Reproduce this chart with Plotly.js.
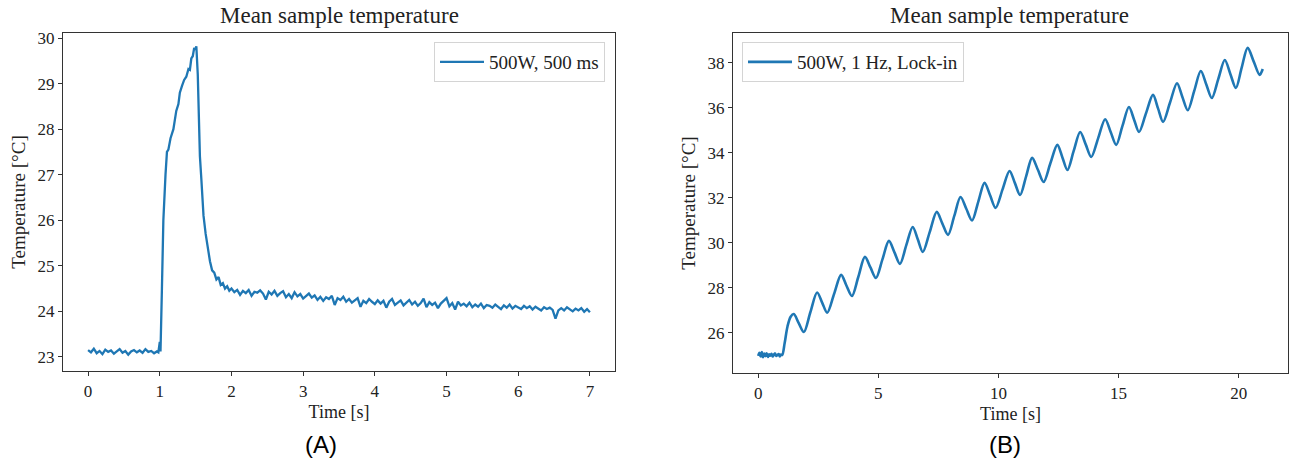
<!DOCTYPE html>
<html>
<head>
<meta charset="utf-8">
<script src="https://cdn.plot.ly/plotly-3.0.1.min.js"></script>
<style>html,body{margin:0;padding:0;background:#fff;}#chart{width:1290px;height:464px;}</style>
</head>
<body>
<div id="chart"></div>
<script>
// ---- Panel A: 500W, 500 ms pulse ----
const timeA = [
  0.00,0.04,0.08,0.12,0.16,0.20,0.24,0.28,0.32,0.36,0.40,0.44,0.48,0.52,0.56,0.60,0.64,0.68,0.72,0.76,0.80,0.84,0.88,0.92,0.96,
  0.98,1.00,1.01,1.03,1.05,1.08,1.10,1.12,1.15,1.19,1.23,1.26,1.28,1.31,1.34,1.37,1.40,1.42,1.44,1.46,1.48,1.50,1.51,
  1.53,1.56,1.58,1.61,1.64,1.67,1.70,1.73,1.76,1.79,1.82,1.85,1.88,1.91,1.94,1.97,2.00,
  2.04,2.08,2.12,2.16,2.20,2.24,2.28,2.32,2.36,2.40,
  2.44,2.48,2.52,2.56,2.60,2.64,2.68,2.72,2.76,2.80,
  2.84,2.88,2.92,2.96,3.00,3.04,3.08,3.12,3.16,3.20,
  3.24,3.28,3.32,3.36,3.40,3.44,3.48,3.52,3.56,3.60,
  3.64,3.68,3.72,3.76,3.80,3.84,3.88,3.92,3.96,4.00,
  4.04,4.08,4.12,4.16,4.20,4.24,4.28,4.32,4.36,4.40,
  4.44,4.48,4.52,4.56,4.60,4.64,4.68,4.72,4.76,4.80,
  4.84,4.88,4.92,4.96,5.00,5.04,5.08,5.12,5.16,5.20,
  5.24,5.28,5.32,5.36,5.40,5.44,5.48,5.52,5.56,5.60,
  5.64,5.68,5.72,5.76,5.80,5.84,5.88,5.92,5.96,6.00,
  6.04,6.08,6.12,6.16,6.20,6.24,6.28,6.32,6.36,6.40,
  6.44,6.48,6.52,6.56,6.60,6.64,6.68,6.72,6.76,6.80,
  6.84,6.88,6.92,6.96,7.00
];
const tempA = [
  23.15,23.10,23.18,23.08,23.13,23.06,23.16,23.11,23.14,23.07,23.12,23.17,23.09,23.13,23.05,23.12,23.15,23.10,23.14,23.09,23.17,23.11,23.13,23.08,23.12,
  23.10,23.33,23.12,24.50,26.00,27.00,27.50,27.55,27.80,28.00,28.40,28.55,28.80,28.95,29.08,29.15,29.32,29.30,29.55,29.60,29.78,29.75,29.82,
  29.20,27.40,26.90,26.10,25.70,25.35,25.10,24.90,24.85,24.70,24.75,24.58,24.62,24.50,24.55,24.45,24.50,
  24.42,24.47,24.36,24.45,24.40,24.47,24.34,24.43,24.41,24.46,
  24.39,24.26,24.43,24.37,24.45,24.34,24.40,24.44,24.31,24.38,
  24.29,24.42,24.33,24.38,24.28,24.33,24.39,24.30,24.35,24.25,
  24.32,24.23,24.31,24.27,24.34,24.14,24.29,24.25,24.32,24.21,
  24.27,24.19,24.25,24.29,24.10,24.23,24.18,24.27,24.21,24.16,
  24.24,24.17,24.23,24.08,24.21,24.27,24.14,24.20,24.24,24.13,
  24.19,24.25,24.15,24.21,24.12,24.18,24.28,24.09,24.20,24.14,
  24.19,24.07,24.17,24.23,24.29,24.11,24.18,24.04,24.21,24.13,
  24.17,24.11,24.19,24.09,24.15,24.10,24.17,24.07,24.14,24.12,
  24.08,24.15,24.10,24.05,24.13,24.08,24.15,24.06,24.12,24.09,
  24.05,24.12,24.07,24.11,24.04,24.10,24.06,24.02,24.09,24.05,
  24.08,24.03,23.84,24.02,24.07,24.02,24.09,24.04,24.00,24.06,
  24.02,24.07,23.99,24.05,23.98
];

// ---- Panel B: 500W, 1 Hz, Lock-in ----
const timeB = [
  0.00,0.05,0.10,0.15,0.20,0.25,0.30,0.35,0.40,0.45,0.50,0.55,0.60,0.65,0.70,0.75,0.80,0.85,0.90,0.95,
  1.00,1.10,1.22,1.35,1.48,1.68,1.90,
  2.17,2.45,2.66,2.87,
  3.16,3.45,3.67,3.90,
  4.17,4.44,4.67,4.90,
  5.17,5.44,5.67,5.90,
  6.16,6.43,6.64,6.85,
  7.14,7.43,7.66,7.90,
  8.16,8.42,8.66,8.90,
  9.16,9.42,9.65,9.88,
  10.17,10.46,10.68,10.90,
  11.15,11.40,11.64,11.88,
  12.16,12.45,12.66,12.87,
  13.13,13.40,13.63,13.86,
  14.15,14.44,14.67,14.90,
  15.16,15.43,15.64,15.85,
  16.14,16.43,16.64,16.85,
  17.14,17.43,17.65,17.88,
  18.15,18.42,18.65,18.88,
  19.15,19.42,19.65,19.88,
  20.12,20.37,20.62,20.87,21.00
];
const tempB = [
  24.98,25.12,24.95,25.15,24.92,25.08,24.97,25.10,24.93,25.05,24.99,25.07,24.95,25.03,25.09,24.98,25.02,25.06,24.96,25.04,
  25.02,25.55,26.30,26.72,26.84,26.45,26.04,
  26.92,27.80,27.35,26.90,
  27.74,28.58,28.11,27.64,
  28.51,29.38,28.91,28.44,
  29.27,30.09,29.58,29.07,
  29.89,30.71,30.16,29.60,
  30.49,31.38,30.87,30.36,
  31.20,32.04,31.52,31.00,
  31.84,32.67,32.12,31.56,
  32.38,33.20,32.67,32.13,
  32.96,33.78,33.25,32.71,
  33.54,34.36,33.80,33.24,
  34.09,34.93,34.38,33.82,
  34.66,35.50,34.93,34.36,
  35.20,36.04,35.49,34.93,
  35.76,36.58,35.98,35.38,
  36.24,37.10,36.50,35.90,
  36.77,37.64,37.04,36.44,
  37.29,38.13,37.51,36.89,
  37.78,38.67,38.07,37.47,37.73
];

const ticksAx = [0,1,2,3,4,5,6,7];
const ticksAy = [23,24,25,26,27,28,29,30];
const ticksBx = [0,5,10,15,20];
const ticksBy = [26,28,30,32,34,36,38];
const titleText = 'Mean sample temperature';
const xLabel = 'Time [s]';
const yLabel = 'Temperature [°C]';
const seriesNameA = '500W, 500 ms';
const seriesNameB = '500W, 1 Hz, Lock-in';
const panelLabels = ['(A)', '(B)'];

const W = 1290, H = 464;
const serif = 'Liberation Serif, Times New Roman, serif';
const blue = '#1f77b4';

const traces = [
  {x: timeA, y: tempA, type: 'scatter', mode: 'lines', name: seriesNameA,
   line: {color: blue, width: 2.3}, xaxis: 'x', yaxis: 'y', legend: 'legend'},
  {x: timeB, y: tempB, type: 'scatter', mode: 'lines', name: seriesNameB,
   line: {color: blue, width: 2.6, shape: 'spline', smoothing: 0.9}, xaxis: 'x2', yaxis: 'y2', legend: 'legend2'}
];

function axisBase() {
  return {
    showgrid: false, zeroline: false, showline: true, mirror: true,
    linecolor: '#333', linewidth: 1.2, ticks: 'outside', ticklen: 4, tickwidth: 1, tickcolor: '#333',
    tickfont: {family: serif, size: 17, color: '#222'}, fixedrange: true
  };
}

const layout = {
  width: W, height: H,
  margin: {l: 0, r: 0, t: 0, b: 0},
  paper_bgcolor: '#fff', plot_bgcolor: '#fff',
  showlegend: true,
  xaxis: Object.assign(axisBase(), {
    domain: [63/W, 615/W], range: [-0.35, 7.35], tickvals: ticksAx, anchor: 'y',
    title: {text: xLabel, font: {family: serif, size: 18, color: '#222'}, standoff: 5}
  }),
  yaxis: Object.assign(axisBase(), {
    domain: [1 - 371/H, 1 - 33/H], range: [22.69, 30.11], tickvals: ticksAy, anchor: 'x',
    title: {text: yLabel, font: {family: serif, size: 19, color: '#222'}, standoff: 6}
  }),
  xaxis2: Object.assign(axisBase(), {
    domain: [733/W, 1288/W], range: [-1.05, 22.05], tickvals: ticksBx, anchor: 'y2',
    title: {text: xLabel, font: {family: serif, size: 18, color: '#222'}, standoff: 5}
  }),
  yaxis2: Object.assign(axisBase(), {
    domain: [1 - 373/H, 1 - 33/H], range: [24.22, 39.33], tickvals: ticksBy, anchor: 'x2',
    title: {text: yLabel, font: {family: serif, size: 19, color: '#222'}, standoff: 6}
  }),
  legend: {
    x: 605/W, xanchor: 'right', y: 1 - 42/H, yanchor: 'top', itemwidth: 44,
    bgcolor: 'rgba(255,255,255,0.8)', bordercolor: '#d4d4d4', borderwidth: 1,
    font: {family: serif, size: 19, color: '#222'}
  },
  legend2: {
    x: 742/W, xanchor: 'left', y: 1 - 42/H, yanchor: 'top', itemwidth: 44,
    bgcolor: 'rgba(255,255,255,0.8)', bordercolor: '#d4d4d4', borderwidth: 1,
    font: {family: serif, size: 19, color: '#222'}
  },
  annotations: [
    {text: titleText, xref: 'paper', yref: 'paper', x: 339/W, y: 1 - 16/H, xanchor: 'center', yanchor: 'middle',
     showarrow: false, font: {family: serif, size: 23, color: '#222'}},
    {text: titleText, xref: 'paper', yref: 'paper', x: 1010/W, y: 1 - 16/H, xanchor: 'center', yanchor: 'middle',
     showarrow: false, font: {family: serif, size: 23, color: '#222'}},
    {text: panelLabels[0], xref: 'paper', yref: 'paper', x: 321/W, y: 1 - 444/H, xanchor: 'center', yanchor: 'middle',
     showarrow: false, font: {family: 'Liberation Sans, Arial, sans-serif', size: 24, color: '#000'}},
    {text: panelLabels[1], xref: 'paper', yref: 'paper', x: 1005/W, y: 1 - 444/H, xanchor: 'center', yanchor: 'middle',
     showarrow: false, font: {family: 'Liberation Sans, Arial, sans-serif', size: 24, color: '#000'}}
  ]
};

Plotly.newPlot('chart', traces, layout, {staticPlot: true, displayModeBar: false});
</script>
</body>
</html>
